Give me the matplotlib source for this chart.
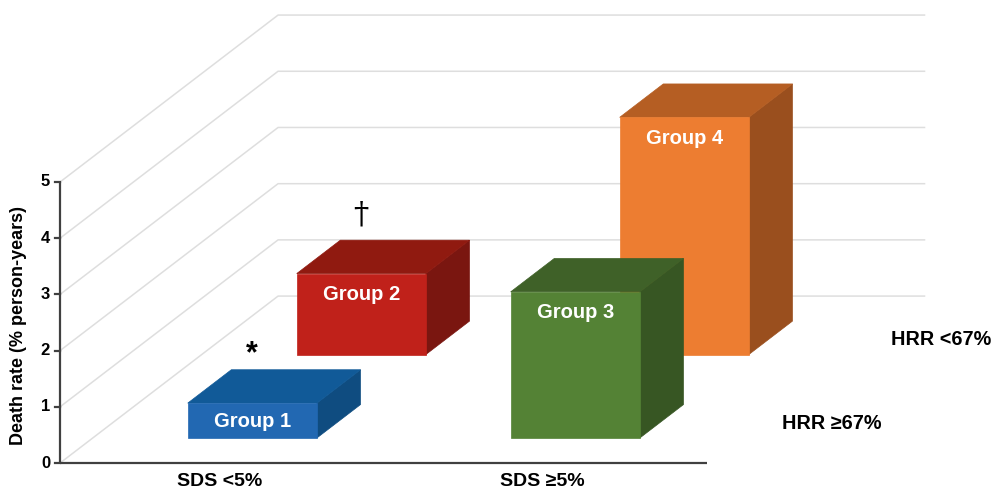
import matplotlib
matplotlib.use("Agg")
import matplotlib.pyplot as plt
from matplotlib.patches import Polygon

plt.rcParams['font.family'] = ['Liberation Sans', 'DejaVu Sans']

# ---- data ----
categories = ["SDS <5%", "SDS \u22655%"]
depth_rows = ["HRR \u226567%", "HRR <67%"]
values_hrr_high = [0.62, 2.60]     # front row (HRR >=67%)
values_hrr_low = [1.44, 4.22]      # back row (HRR <67%)
labels_hrr_high = ["Group 1", "Group 3"]
labels_hrr_low = ["Group 2", "Group 4"]
marks_hrr_high = ["*", ""]
marks_hrr_low = ["\u2020", ""]
y_ticks = [0, 1, 2, 3, 4, 5]

front_colors_high = ["#2268B2", "#548235"]
top_colors_high = ["#115A98", "#3F6128"]
side_colors_high = ["#0F4C80", "#375623"]
front_colors_low = ["#C0211A", "#ED7D31"]
top_colors_low = ["#901A10", "#B55E23"]
side_colors_low = ["#7A1610", "#9A4F1E"]

# ---- projection ----
KX, KY = 0.675, 2.97          # offset for full depth (x in category units, y in value units)
X_LO, X_HI = -0.494, 1.51
BAR_W = 0.40
ROW_DEPTH = [(0.15, 0.35), (0.65, 0.85)]


def proj(x, v, d):
    return (x + KX * d, v + KY * d)


fig = plt.figure(figsize=(9.96, 4.91), dpi=100)
ax = fig.add_axes([0, 0, 1, 1])
ax.set_xlim(-0.680, 2.404)
ax.set_ylim(-0.498, 8.238)
ax.axis('off')

PX = 3.084 / 996     # one pixel in x data units
PY = 8.736 / 491     # one pixel in y data units

grid_c = "#DEDEDE"
ymax = y_ticks[-1]
# side wall diagonals and back wall gridlines
for t in y_ticks:
    p0 = proj(X_LO, t, 0)
    p1 = proj(X_LO, t, 1)
    p2 = proj(X_HI, t, 1)
    ax.plot([p0[0], p1[0], p2[0]], [p0[1], p1[1], p2[1]], color=grid_c, lw=1.1,
            zorder=1, solid_capstyle='butt')

# axes
ax.plot([X_LO, X_LO], [0, ymax], color="#404040", lw=1.6, zorder=2, solid_capstyle='butt')
ax.plot([X_LO, X_HI], [0, 0], color="#404040", lw=1.6, zorder=2, solid_capstyle='butt')
for t in y_ticks:
    ax.plot([X_LO - 5 * PX, X_LO], [t, t], color="#404040", lw=1.6, zorder=2)
    ax.text(X_LO - 10 * PX, t, str(t), ha='right', va='center', fontsize=12,
            fontweight='bold', color='black')

ax.text(-0.624, 2.45, "Death rate (% person-years)", rotation=90, ha='center',
        va='center', fontsize=13, fontweight='bold')

for i, c in enumerate(categories):
    ax.text(i, -0.33, c, ha='center', va='center', fontsize=14, fontweight='bold')

for r, name in enumerate(depth_rows):
    d0, d1 = ROW_DEPTH[r]
    px, py = proj(X_HI, 0, (d0 + d1) / 2)
    ax.text(px + 20 * PX, py - 2 * PY, name, ha='left', va='center', fontsize=14.3,
            fontweight='bold')


def draw_bar(x, v, d0, d1, fc, tc, sc, label, mark, z):
    xl, xr = x - BAR_W / 2, x + BAR_W / 2
    front = [proj(xl, 0, d0), proj(xr, 0, d0), proj(xr, v, d0), proj(xl, v, d0)]
    top = [proj(xl, v, d0), proj(xr, v, d0), proj(xr, v, d1), proj(xl, v, d1)]
    side = [proj(xr, 0, d0), proj(xr, v, d0), proj(xr, v, d1), proj(xr, 0, d1)]
    ax.add_patch(Polygon(side, closed=True, facecolor=sc, edgecolor=sc, lw=0.5, zorder=z))
    ax.add_patch(Polygon(top, closed=True, facecolor=tc, edgecolor=tc, lw=0.5, zorder=z))
    ax.add_patch(Polygon(front, closed=True, facecolor=fc, edgecolor=fc, lw=0.5, zorder=z + 0.1))
    fx, fy = proj(x, v, d0)
    off = min(21.0, (v / PY) / 2 + 1)
    ax.text(fx, fy - off * PY, label, ha='center', va='center', color='white',
            fontsize=14.5, fontweight='bold', zorder=z + 0.2)
    if mark:
        mx, my = proj(x, v, d1)
        if mark == "*":
            ax.text(fx, my, mark, ha='center', va='bottom', fontsize=22,
                    fontweight='bold', zorder=z + 0.2)
        else:
            ax.text(fx, my + 10 * PY, mark, ha='center', va='bottom', fontsize=22,
                    family=['DejaVu Serif', 'DejaVu Sans'], zorder=z + 0.2)


# back row first
d0, d1 = ROW_DEPTH[1]
for i in range(len(categories)):
    draw_bar(i, values_hrr_low[i], d0, d1, front_colors_low[i], top_colors_low[i],
             side_colors_low[i], labels_hrr_low[i], marks_hrr_low[i], 3 + i)
d0, d1 = ROW_DEPTH[0]
for i in range(len(categories)):
    draw_bar(i, values_hrr_high[i], d0, d1, front_colors_high[i], top_colors_high[i],
             side_colors_high[i], labels_hrr_high[i], marks_hrr_high[i], 6 + i)

fig.savefig("out.png", dpi=100)
